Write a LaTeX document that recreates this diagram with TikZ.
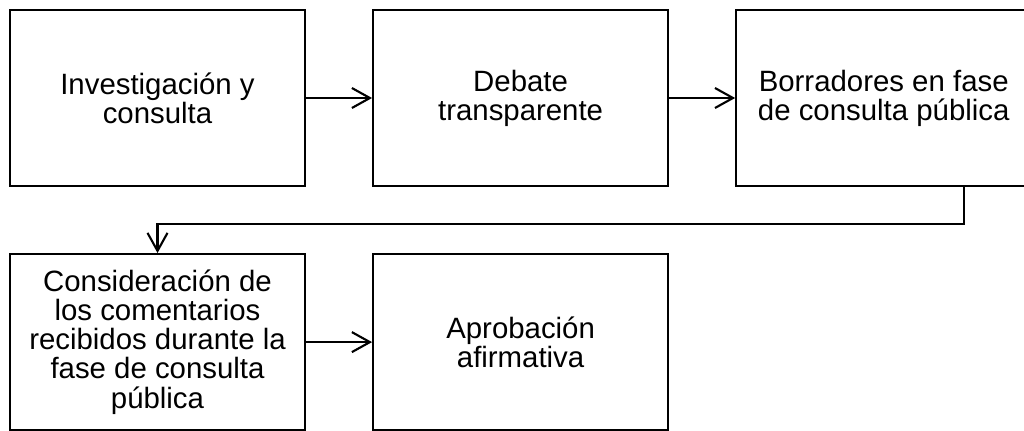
\documentclass[tikz,border=0pt]{standalone}
\usepackage{fontspec}
\setmainfont{Liberation Sans}
\usetikzlibrary{positioning,arrows.meta}

\begin{document}
\begin{tikzpicture}[
        stagebox/.style={draw, line width=1.5pt, minimum width=7.375cm, minimum height=4.4cm,
            inner sep=0pt, align=center, font=\fontsize{20.9}{20.7}\selectfont},
        flow/.style={-{Straight Barb[length=4.5mm,width=5mm]}, line width=1.5pt}
    ]
        % Fix the canvas
        \useasboundingbox (0,0) rectangle (25.6,-10.775);
        \clip (0,0) rectangle (25.6,-10.775);

        % First row
        \node[stagebox] (invest) at (3.9375,-2.45) {Investigación y\\consulta};
        \node[stagebox, right=1.65cm of invest] (debate) {Debate\\transparente};
        \node[stagebox, right=1.65cm of debate] (borr) {Borradores en fase\\de consulta pública};

        % Second row
        \node[stagebox, below=1.65cm of invest] (consid) {Consideración de\\los comentarios\\recibidos durante la\\fase de consulta\\pública};
        \node[stagebox, right=1.65cm of consid] (aprob) {Aprobación\\afirmativa};

        % Arrows
        \draw[flow] (invest) -- (debate);
        \draw[flow] (debate) -- (borr);
        \draw[flow] ([xshift=2cm]borr.south) -- ++(0,-0.925) -| (consid.north);
        \draw[flow] (consid) -- (aprob);

    \end{tikzpicture}
\end{document}
